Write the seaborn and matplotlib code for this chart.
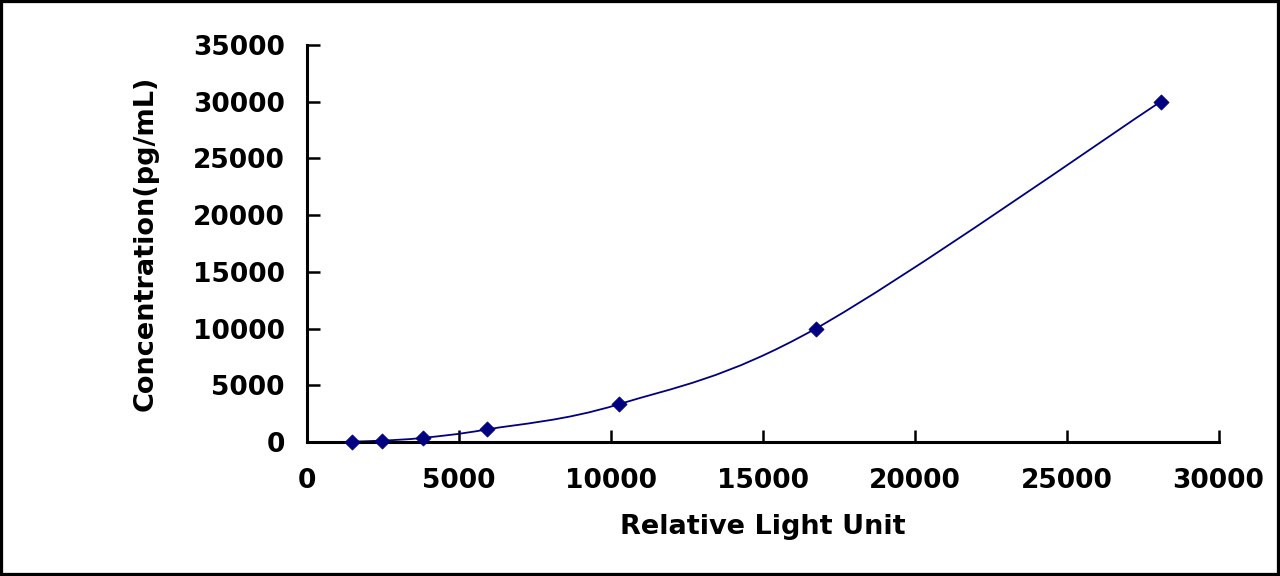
import numpy as np
import pandas as pd
import matplotlib
matplotlib.use("Agg")
import matplotlib.pyplot as plt
from matplotlib.path import Path
from matplotlib.patches import PathPatch, Rectangle
import seaborn as sns

# standard curve points
rlu = [1480, 2470, 3820, 5920, 10260, 16740, 28090]
conc = [41, 123, 370, 1111, 3333, 10000, 30000]

x_ticks = [0, 5000, 10000, 15000, 20000, 25000, 30000]
y_ticks = [0, 5000, 10000, 15000, 20000, 25000, 30000, 35000]

NAVY = "#000080"


def smooth_path(xs, ys):
    """Bezier path through the points, like a spreadsheet 'smoothed line'"""
    pts = np.column_stack([xs, ys]).astype(float)
    n = len(pts)
    verts = [pts[0]]
    codes = [Path.MOVETO]
    for i in range(n - 1):
        p0 = pts[max(i - 1, 0)]
        p1 = pts[i]
        p2 = pts[i + 1]
        p3 = pts[min(i + 2, n - 1)]
        verts += [p1 + (p2 - p0) / 6, p2 - (p3 - p1) / 6, p2]
        codes += [Path.CURVE4] * 3
    return Path(verts, codes)


sns.set_style("white")
plt.rcParams["font.family"] = ["DejaVu Sans"]
plt.rcParams["font.weight"] = "bold"

df = pd.DataFrame({"RLU": rlu, "Concentration": conc})

fig = plt.figure(figsize=(12.8, 5.76), dpi=100)
ax = fig.add_axes([0.240, 0.2326, 0.712, 0.6893])

ax.add_patch(PathPatch(smooth_path(rlu, conc), facecolor="none",
                       edgecolor=NAVY, linewidth=1.3, zorder=2))
sns.scatterplot(data=df, x="RLU", y="Concentration", ax=ax, marker="D",
                s=60, color=NAVY, edgecolor=NAVY, linewidth=0.5, zorder=3,
                clip_on=False)

ax.set_xlim(0, 30000)
ax.set_ylim(0, 35000)
ax.set_xticks(x_ticks)
ax.set_yticks(y_ticks)
ax.set_xticklabels([str(t) for t in x_ticks], fontsize=19, fontweight="bold")
ax.set_yticklabels([str(t) for t in y_ticks], fontsize=19, fontweight="bold")
ax.tick_params(axis="both", direction="in", length=9, width=1.8,
               colors="black", bottom=True, left=True)
ax.tick_params(axis="x", pad=19)
ax.tick_params(axis="y", pad=16)

ax.set_xlabel("Relative Light Unit", fontsize=19.5, fontweight="bold",
              color="black", labelpad=14)
ax.set_ylabel("Concentration(pg/mL)", fontsize=19.5, fontweight="bold",
              color="black", labelpad=25)

sns.despine(ax=ax)
for side in ["left", "bottom"]:
    ax.spines[side].set_linewidth(2.2)
    ax.spines[side].set_color("black")

# black frame round the whole picture
fig.patches.append(Rectangle((0, 0), 1, 1, transform=fig.transFigure,
                             fill=False, edgecolor="black", linewidth=4.5))

fig.savefig("out.png", dpi=100)
